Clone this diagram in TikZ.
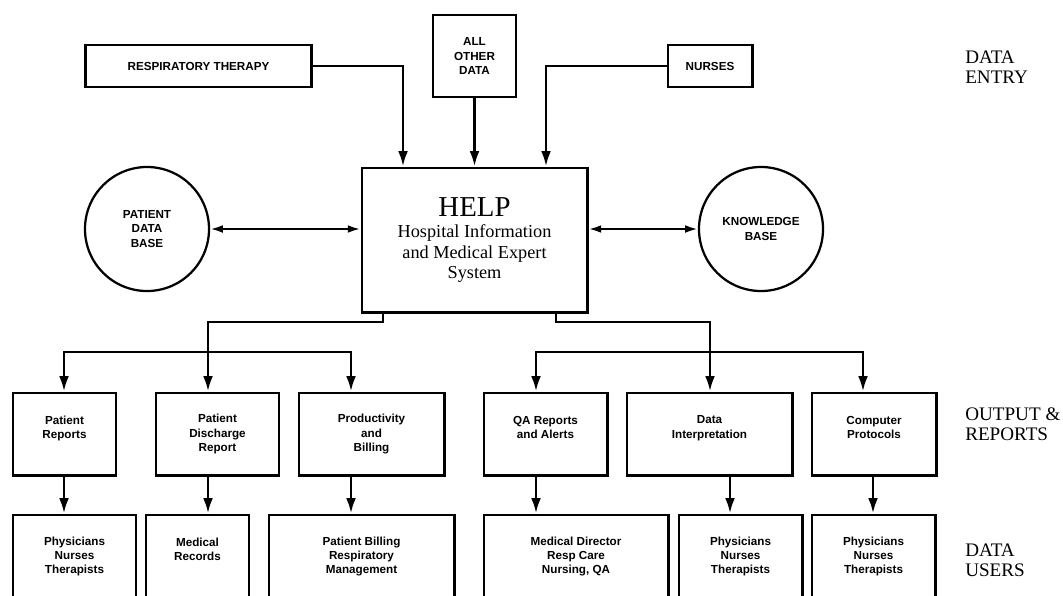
\documentclass[tikz,border=0pt]{standalone}
\usepackage{fontspec}
\setmainfont{Liberation Serif}
\newfontfamily\boxfont{Liberation Sans}
\usetikzlibrary{arrows.meta}

\tikzset{
  blk/.style={draw, line width=2.1pt, align=center, inner sep=0pt,
    font=\boxfont\bfseries\fontsize{8.3}{10}\selectfont},
  db/.style={blk, circle, line width=1.6pt, minimum size=3.1cm},
  feed/.style={line width=1.9pt, -{Latex[length=11pt,width=7pt]}},
  link/.style={line width=1.6pt, {Latex[length=9pt,width=5.5pt]}-{Latex[length=9pt,width=5.5pt]}},
  tier/.style={anchor=west, align=left, inner sep=0pt, font=\fontsize{13.6}{14}\selectfont}
}

\begin{document}
\begin{tikzpicture}[x=0.025cm, y=-0.025cm]
    \useasboundingbox (0,0) rectangle (1063,595);
    \clip (0,0) rectangle (1063,595);

    % ==========================================
    % DATA ENTRY
    % ==========================================
    \node[blk, minimum width=5.625cm, minimum height=1.05cm] (rt) at (198.5,66) {RESPIRATORY THERAPY};
    \node[blk, minimum width=2.075cm, minimum height=2.05cm] (aod) at (474.5,56) {ALL\\OTHER\\DATA};
    \node[blk, minimum width=2.1cm, minimum height=1.05cm] (nu) at (710,66) {NURSES};

    % Central system
    \node[blk, minimum width=5.625cm, minimum height=3.6cm, font=\fontsize{13}{14.5}\selectfont] (help) at (474.5,240)
        {{\fontsize{20.5}{20}\selectfont HELP}\\[1pt] Hospital Information\\and Medical Expert\\System};

    % Data bases on both sides
    \node[db] (pdb) at (147,229) {PATIENT\\DATA\\BASE};
    \node[db] (kb) at (761,229) {KNOWLEDGE\\BASE};

    \coordinate (e1) at (403,0);
    \coordinate (e3) at (546,0);
    \draw[feed] (rt.east) -| (help.north -| e1);
    \draw[feed] (aod.south) -- (help.north -| aod.south);
    \draw[feed] (nu.west) -| (help.north -| e3);

    \draw[link] (pdb.east) -- (help.west |- pdb.east);
    \draw[link] (help.east |- kb.west) -- (kb.west);

    % ==========================================
    % OUTPUT & REPORTS
    % ==========================================
    \node[blk, minimum width=2.575cm, minimum height=2.05cm] (pr) at (64.5,434) {Patient\\Reports\\~};
    \node[blk, minimum width=3.075cm, minimum height=2.05cm] (pdr) at (217.5,434) {Patient\\Discharge\\Report};
    \node[blk, minimum width=3.625cm, minimum height=2.05cm] (pab) at (371.5,434) {Productivity\\and\\Billing};
    \node[blk, minimum width=3.075cm, minimum height=2.05cm] (qa) at (545.5,434) {QA Reports\\and Alerts\\~};
    \node[blk, minimum width=4.125cm, minimum height=2.05cm] (di) at (709.5,434) {Data\\Interpretation\\~};
    \node[blk, minimum width=3.1cm, minimum height=2.05cm] (cp) at (874,434) {Computer\\Protocols\\~};

    % Two feeds out of the bottom of the central box
    \coordinate (j1) at (383,322);
    \coordinate (j2) at (556,322);
    \coordinate (bl) at (208,352);
    \coordinate (br) at (710,352);
    \draw[feed] (help.south -| j1) -- (j1) -| (pdr.north -| bl);
    \draw[feed] (help.south -| j2) -- (j2) -| (di.north -| br);
    \draw[feed] (bl) -| (pr.north -| 64,0);
    \draw[feed] (bl) -| (pab.north -| 351,0);
    \draw[feed] (br) -| (qa.north -| 536,0);
    \draw[feed] (br) -| (cp.north -| 863,0);

    % ==========================================
    % DATA USERS
    % ==========================================
    \node[blk, minimum width=3.075cm, minimum height=2.075cm] (u1) at (74.5,556.5) {Physicians\\Nurses\\Therapists};
    \node[blk, minimum width=2.575cm, minimum height=2.075cm] (u2) at (197.5,556.5) {Medical\\Records\\~};
    \node[blk, minimum width=4.625cm, minimum height=2.075cm] (u3) at (361.5,556.5) {Patient Billing\\Respiratory\\Management};
    \node[blk, minimum width=4.6cm, minimum height=2.075cm] (u4) at (576,556.5) {Medical Director\\Resp Care\\Nursing, QA};
    \node[blk, minimum width=3.075cm, minimum height=2.075cm] (u5) at (740.5,556.5) {Physicians\\Nurses\\Therapists};
    \node[blk, minimum width=3.075cm, minimum height=2.075cm] (u6) at (873.5,556.5) {Physicians\\Nurses\\Therapists};

    \foreach \a/\b/\x in {pr/u1/64, pdr/u2/208, pab/u3/351, qa/u4/536, di/u5/730, cp/u6/873}
        \draw[feed] (\a.south -| \x,0) -- (\b.north -| \x,0);

    % Tier names on the right
    \node[tier] (t1) at (965,67) {DATA\\ENTRY};
    \node[tier] (t2) at (965,424) {OUTPUT \&\\REPORTS};
    \node[tier] (t3) at (965,560) {DATA\\USERS};

\end{tikzpicture}
\end{document}
